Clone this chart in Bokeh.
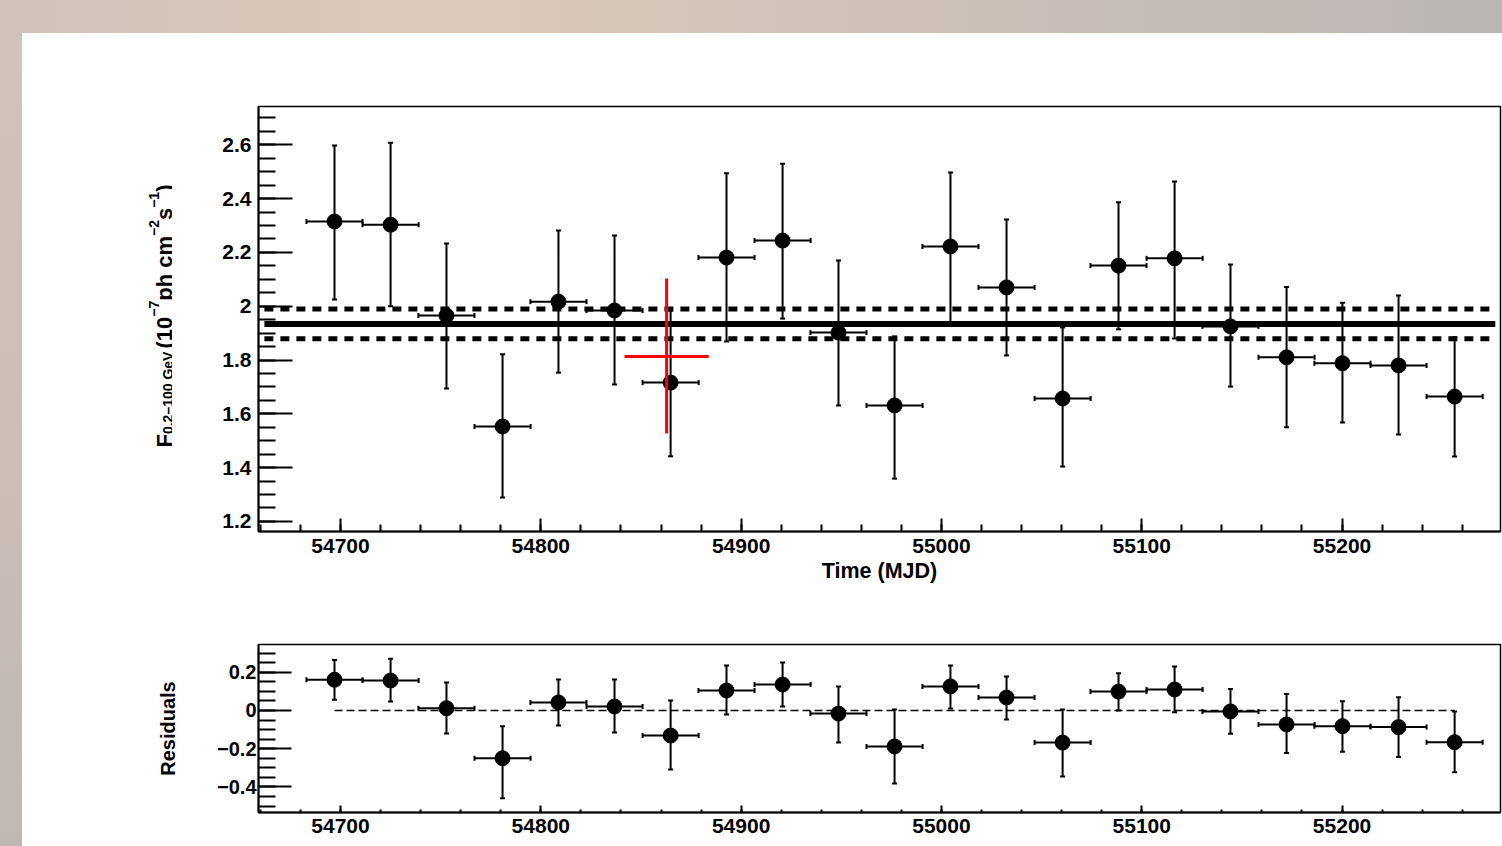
import math
from bokeh.plotting import figure
from bokeh.models import (Range1d, ColumnDataSource, Whisker, TeeHead, Div,
                          SingleIntervalTicker, CustomJSTickFormatter)
from bokeh.core.properties import value
from bokeh.layouts import column, row
from bokeh.embed import file_html
from bokeh.resources import INLINE

# ---------------- data ----------------
mjd = [54697.0, 54725.0, 54752.9, 54780.9, 54808.8, 54836.8, 54864.8, 54892.7,
       54920.7, 54948.6, 54976.6, 55004.5, 55032.5, 55060.5, 55088.4, 55116.4,
       55144.3, 55172.3, 55200.2, 55228.2, 55256.2]
bin_half = [14.0, 14.0, 14.0, 14.0, 14.0, 14.0, 14.0, 14.0, 14.0, 14.0, 14.0,
            14.0, 14.0, 14.0, 14.0, 14.0, 14.0, 14.0, 14.0, 14.0, 14.0]
flux = [2.315, 2.303, 1.965, 1.553, 2.017, 1.984, 1.716, 2.181, 2.244, 1.902, 1.631,
        2.222, 2.070, 1.657, 2.151, 2.178, 1.925, 1.810, 1.788, 1.780, 1.664]
flux_hi = [2.597, 2.608, 2.233, 1.821, 2.281, 2.263, 1.984, 2.494, 2.530, 2.170, 1.888,
           2.497, 2.322, 1.921, 2.386, 2.464, 2.155, 2.071, 2.013, 2.040, 1.885]
flux_lo = [2.025, 2.000, 1.694, 1.289, 1.753, 1.709, 1.442, 1.869, 1.954, 1.631, 1.359,
           1.940, 1.817, 1.404, 1.914, 1.880, 1.701, 1.550, 1.568, 1.523, 1.441]

fit_level = 1.934
fit_hi = 1.990
fit_lo = 1.879
fit_start = 54662.0
fit_end_solid = 55276.5
fit_end_dash = 55274.0

red_mjd = 54862.8
red_half = 21.0
red_flux = 1.813
red_hi = 2.103
red_lo = 1.527

resid = [0.161, 0.157, 0.012, -0.250, 0.042, 0.021, -0.131, 0.105, 0.136, -0.016, -0.188,
         0.126, 0.068, -0.168, 0.099, 0.110, -0.005, -0.073, -0.082, -0.087, -0.166]
resid_hi = [0.265, 0.271, 0.147, -0.082, 0.162, 0.162, 0.052, 0.236, 0.251, 0.126, 0.005,
            0.236, 0.178, 0.005, 0.195, 0.230, 0.113, 0.087, 0.049, 0.070, -0.005]
resid_lo = [0.056, 0.047, -0.120, -0.459, -0.079, -0.115, -0.309, -0.021, 0.021, -0.168, -0.382,
            0.010, -0.047, -0.346, 0.000, -0.009, -0.122, -0.223, -0.216, -0.244, -0.323]

x_title = "Time (MJD)"
res_title = "Residuals"
ylab_pieces = [("F", "big"), ("0.2\u2013100 GeV", "sub"), ("(10", "big"), ("\u22127", "sup"),
               ("ph cm", "big"), ("\u22122", "sup"), ("s", "big"), ("\u22121", "sup"), (")", "big")]

# ---------------- layout constants (page pixels) ----------------
FONT = "Liberation Sans"
X0, X1 = 54659.06, 55279.1
TOP_RANGE = (1.1625, 2.7424)
RES_RANGE = (-0.534, 0.3455)
BAND_TOP = 33
BAND_LEFT = 22
LAB_W = 150                       # strip that holds the composed y title
P1_W = 1502 - BAND_LEFT - LAB_W   # 1330
P2_W = 1502 - BAND_LEFT           # 1480
P1_H = 577
P2_H = 846 - BAND_TOP - P1_H      # 236
F1_TOP, F1_BOTTOM = 106, 531      # page rows of the top frame

yfmt = ("let s = tick.toFixed(1); if (s.endsWith('.0')) s = s.slice(0, -2);"
        "if (s === '-0') s = '0'; return s.replace('-', '\u2212');")


def base_fig(width, height, yr, left, top, bottom):
    p = figure(width=width, height=height, x_range=Range1d(X0, X1), y_range=Range1d(*yr),
               output_backend="svg", toolbar_location=None,
               min_border_left=left, min_border_right=2, min_border_top=top,
               min_border_bottom=bottom, background_fill_color="white",
               border_fill_color="white", margin=0)
    p.grid.visible = False
    p.outline_line_color = "black"
    p.outline_line_width = 1.5
    p.outline_line_alpha = 1.0
    for ax in (p.xaxis[0], p.yaxis[0]):
        ax.axis_line_width = 2
        ax.axis_line_color = "black"
        ax.major_tick_out = 0
        ax.minor_tick_out = 0
        ax.major_tick_line_width = 2
        ax.minor_tick_line_width = 2
        ax.major_tick_line_color = "black"
        ax.minor_tick_line_color = "black"
        ax.major_label_text_font = FONT
        ax.major_label_text_font_style = "bold"
        ax.major_label_text_color = "black"
        ax.axis_label_text_font = FONT
        ax.axis_label_text_font_style = "bold"
        ax.axis_label_text_color = "black"
    p.xaxis.ticker = SingleIntervalTicker(interval=100, num_minor_ticks=5)
    p.xaxis.formatter = CustomJSTickFormatter(code="return tick.toFixed(0);")
    p.yaxis.ticker = SingleIntervalTicker(interval=0.2, num_minor_ticks=4)
    p.yaxis.formatter = CustomJSTickFormatter(code=yfmt)
    return p


def add_points(p, xs, ys, hi, lo, half):
    src = ColumnDataSource(dict(
        x=xs, y=ys, hi=hi, lo=lo,
        xl=[a - h for a, h in zip(xs, half)], xr=[a + h for a, h in zip(xs, half)]))
    for dim, base, up, low in (("height", "x", "hi", "lo"), ("width", "y", "xr", "xl")):
        p.add_layout(Whisker(source=src, base=base, upper=up, lower=low, dimension=dim,
                             line_width=2, line_color="black",
                             upper_head=TeeHead(size=5, line_width=2, line_color="black"),
                             lower_head=TeeHead(size=5, line_width=2, line_color="black")))
    p.scatter("x", "y", source=src, size=15, color="black")


# ---------------- top panel ----------------
p1 = base_fig(P1_W, P1_H, TOP_RANGE, 258 - BAND_LEFT - LAB_W, F1_TOP - BAND_TOP,
              BAND_TOP + P1_H - F1_BOTTOM)
p1.xaxis.major_tick_in = 13
p1.xaxis.minor_tick_in = 7
p1.yaxis.major_tick_in = 34
p1.yaxis.minor_tick_in = 17
p1.xaxis.major_label_text_font_size = "21px"
p1.yaxis.major_label_text_font_size = "21px"
p1.xaxis.major_label_standoff = 7
p1.yaxis.major_label_standoff = 7
p1.xaxis.axis_label = x_title
p1.xaxis.axis_label_text_font_size = "21.5px"
p1.xaxis.axis_label_standoff = 3

p1.line([fit_start, fit_end_dash], [fit_hi, fit_hi], line_width=5, color="black", line_dash="9 7")
p1.line([fit_start, fit_end_dash], [fit_lo, fit_lo], line_width=5, color="black", line_dash="9 7")
p1.line([fit_start, fit_end_solid], [fit_level, fit_level], line_width=6, color="black")
add_points(p1, mjd, flux, flux_hi, flux_lo, bin_half)
p1.segment(x0=[red_mjd], y0=[red_lo], x1=[red_mjd], y1=[red_hi], color="red", line_width=3)
p1.segment(x0=[red_mjd - red_half], y0=[red_flux], x1=[red_mjd + red_half], y1=[red_flux],
           color="red", line_width=3)

# ---------------- composed, rotated y title in its own strip ----------------
# (the strip's frame is aligned by the row with p1's frame, so map it to page rows)
lab = figure(width=LAB_W, height=P1_H, x_range=Range1d(BAND_LEFT, BAND_LEFT + LAB_W),
             y_range=Range1d(F1_BOTTOM, F1_TOP), output_backend="svg",
             toolbar_location=None, x_axis_location=None, y_axis_location=None,
             min_border=0, margin=0, background_fill_color="white",
             border_fill_color="white")
lab.grid.visible = False
lab.outline_line_color = None

WID = {'F': 611, '0': 556, '1': 556, '2': 556, '7': 556, '.': 278, '\u2013': 556, ' ': 278,
       'G': 778, 'e': 556, 'V': 667, '(': 333, ')': 333, '\u2212': 584, 'p': 611, 'h': 611,
       'c': 556, 'm': 889, 's': 556}
SIZES = {"big": 22, "sub": 14, "sup": 14}
BASE_X = {"big": 164, "sub": 167, "sup": 153}   # page px of each baseline
GAP_AFTER = {"sub": 3}

lx, ly, lt, lf = [], [], [], []
ypos = 447
for txt, kind in ylab_pieces:
    sz = SIZES[kind]
    lx.append(BASE_X[kind])
    ly.append(ypos)
    lt.append(txt)
    lf.append(f"{sz}px")
    ypos -= sum(WID.get(c, 556) for c in txt) / 1000.0 * sz + GAP_AFTER.get(kind, 0)
lab.text(x="x", y="y", text="t", source=ColumnDataSource(dict(x=lx, y=ly, t=lt, fs=lf)),
         angle=math.pi / 2, text_font=value(FONT), text_font_style="bold",
         text_font_size="fs", text_color="black", text_align="left",
         text_baseline="alphabetic")

# ---------------- residual panel ----------------
p2 = base_fig(P2_W, P2_H, RES_RANGE, 258 - BAND_LEFT, 644 - BAND_TOP - P1_H, 846 - 812)
p2.xaxis.major_tick_in = 7
p2.xaxis.minor_tick_in = 3
p2.yaxis.major_tick_in = 33
p2.yaxis.minor_tick_in = 17
p2.xaxis.major_label_text_font_size = "21px"
p2.yaxis.major_label_text_font_size = "20px"
p2.xaxis.major_label_standoff = 6
p2.yaxis.major_label_standoff = 2
p2.yaxis.axis_label = res_title
p2.yaxis.axis_label_text_font_size = "20px"
p2.yaxis.axis_label_standoff = 35

p2.line([mjd[0], mjd[-1]], [0, 0], line_width=1.5, color="black", line_dash="8 4")
add_points(p2, mjd, resid, resid_hi, resid_lo, bin_half)

# ---------------- page ----------------
top_band = Div(text="", width=1502, height=BAND_TOP, margin=0,
               styles={"background": "linear-gradient(to right, #d1c2b9 0%, #dccab9 30%, #cdc1b8 60%, #bbb6b3 100%)"})
left_band = Div(text="", width=BAND_LEFT, height=846 - BAND_TOP, margin=0,
                styles={"background": "linear-gradient(to bottom, #d2c3b9 0%, #c9bdb6 60%, #c0b7b3 100%)"})
plots = column(row(lab, p1, margin=0), p2, margin=0)
layout = column(top_band, row(left_band, plots, margin=0), margin=0)

open("out.html", "w").write(file_html(layout, INLINE))
